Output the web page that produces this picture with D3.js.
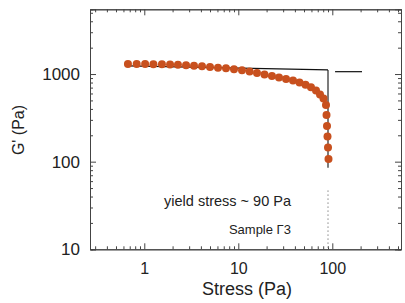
<!DOCTYPE html>
<html><head><meta charset="utf-8">
<script src="https://cdn.jsdelivr.net/npm/d3@7"></script>
<style>
html,body{margin:0;padding:0;background:#fff;}
svg{display:block;font-family:"Liberation Sans",Arial,sans-serif;}
</style></head>
<body><svg id="c" width="405" height="303"></svg>
<script>
// Data
const stress = [0.67, 0.83, 1.02, 1.25, 1.54, 1.88, 2.28, 2.78, 3.38, 4.11, 5.0, 6.08, 7.4, 9.0, 10.95, 13.2, 15.8, 19.0, 22.8, 27.1, 32.2, 38.2, 44.8, 51.9, 59.3, 67.1, 74.0, 80.6, 85.7, 86.8, 87.8, 88.9, 90.0, 91.1];
const gPrime = [1304, 1304, 1304, 1297, 1294, 1287, 1277, 1263, 1247, 1227, 1205, 1183, 1165, 1137, 1105, 1068, 1030, 990, 951, 915, 879, 845, 802, 755, 707, 650, 585, 527, 444, 341, 256, 194, 145, 107];
const fitStress = [0.67, 90];
const fitG = [1237, 1114];
const fitStress2 = [107, 207];
const fitG2 = [1064, 1064];
const yieldStress = 90;
const yieldLineG = [1114, 85];
const yieldDotG = [47, 10];
const xTicks = [1, 10, 100];
const xTickLabels = ["1", "10", "100"];
const yTicks = [10, 100, 1000];
const yTickLabels = ["10", "100", "1000"];
const xMinor = [0.3,0.4,0.5,0.6,0.7,0.8,0.9,2,3,4,5,6,7,8,9,20,30,40,50,60,70,80,90,200,300,400,500];
const yMinor = [20,30,40,50,60,70,80,90,200,300,400,500,600,700,800,900,2000,3000,4000,5000];
const xDomain = [0.2645, 538];
const yDomain = [10, 5480];

const svg = d3.select("#c");
const L = 90, R = 401, T = 9.3, B = 249.3;
const x = d3.scaleLog().domain(xDomain).range([L, R]);
const y = d3.scaleLog().domain(yDomain).range([B, T]);
const frameColor = "#444";

function styleAxis(g){ g.select(".domain").attr("stroke", frameColor); g.selectAll("line").attr("stroke", frameColor); }
svg.append("g").attr("transform",`translate(0,${B})`).call(d3.axisBottom(x).tickValues(xTicks).tickSize(-6).tickFormat((d,i)=>xTickLabels[i]).tickPadding(13))
  .call(styleAxis).call(g=>g.selectAll("text").attr("font-size",16).attr("fill","#222").attr("font-family","Liberation Sans, Arial"));
svg.append("g").attr("transform",`translate(0,${B})`).call(d3.axisBottom(x).tickValues(xMinor).tickSize(-3).tickFormat(""))
  .call(styleAxis);
svg.append("g").attr("transform",`translate(0,${T})`).call(d3.axisTop(x).tickValues(xTicks).tickSize(-6).tickFormat("")).call(styleAxis);
svg.append("g").attr("transform",`translate(0,${T})`).call(d3.axisTop(x).tickValues(xMinor).tickSize(-3).tickFormat("")).call(styleAxis);
svg.append("g").attr("transform",`translate(${L},0)`).call(d3.axisLeft(y).tickValues(yTicks).tickSize(-6).tickFormat((d,i)=>yTickLabels[i]).tickPadding(10))
  .call(styleAxis).call(g=>g.selectAll("text").attr("font-size",17).attr("fill","#222").attr("font-family","Liberation Sans, Arial"));
svg.append("g").attr("transform",`translate(${L},0)`).call(d3.axisLeft(y).tickValues(yMinor).tickSize(-3).tickFormat("")).call(styleAxis);
svg.append("g").attr("transform",`translate(${R},0)`).call(d3.axisRight(y).tickValues(yTicks).tickSize(-6).tickFormat("")).call(styleAxis);
svg.append("g").attr("transform",`translate(${R},0)`).call(d3.axisRight(y).tickValues(yMinor).tickSize(-3).tickFormat("")).call(styleAxis);

const line = d3.line().x(d=>x(d[0])).y(d=>y(d[1]));
svg.append("path").attr("d", line(fitStress.map((s,i)=>[s,fitG[i]]))).attr("stroke","#111").attr("stroke-width",1.2).attr("fill","none");
svg.append("path").attr("d", line(fitStress2.map((s,i)=>[s,fitG2[i]]))).attr("stroke","#111").attr("stroke-width",1.2).attr("fill","none");
svg.append("path").attr("d", line(yieldLineG.map(g=>[yieldStress,g]))).attr("stroke","#111").attr("stroke-width",1.1).attr("fill","none");
svg.append("path").attr("d", line(yieldDotG.map(g=>[yieldStress,g]))).attr("stroke","#888").attr("stroke-width",1).attr("stroke-dasharray","1.5,2.5").attr("fill","none");

svg.append("g").selectAll("circle").data(stress).join("circle")
  .attr("cx",(d)=>x(d)).attr("cy",(d,i)=>y(gPrime[i])).attr("r",4).attr("fill","#c8501e");

svg.append("text").attr("x",291).attr("y",206).attr("text-anchor","end").attr("font-size",14.5).attr("fill","#222").text("yield stress ~ 90 Pa");
svg.append("text").attr("x",291).attr("y",234).attr("text-anchor","end").attr("font-size",13).attr("fill","#222").text("Sample Γ3");

svg.append("text").attr("x",247).attr("y",295).attr("text-anchor","middle").attr("font-size",18).attr("fill","#222").text("Stress (Pa)");
svg.append("text").attr("transform","translate(24,130) rotate(-90)").attr("text-anchor","middle").attr("font-size",16).attr("fill","#222").text("G' (Pa)");
</script></body></html>
